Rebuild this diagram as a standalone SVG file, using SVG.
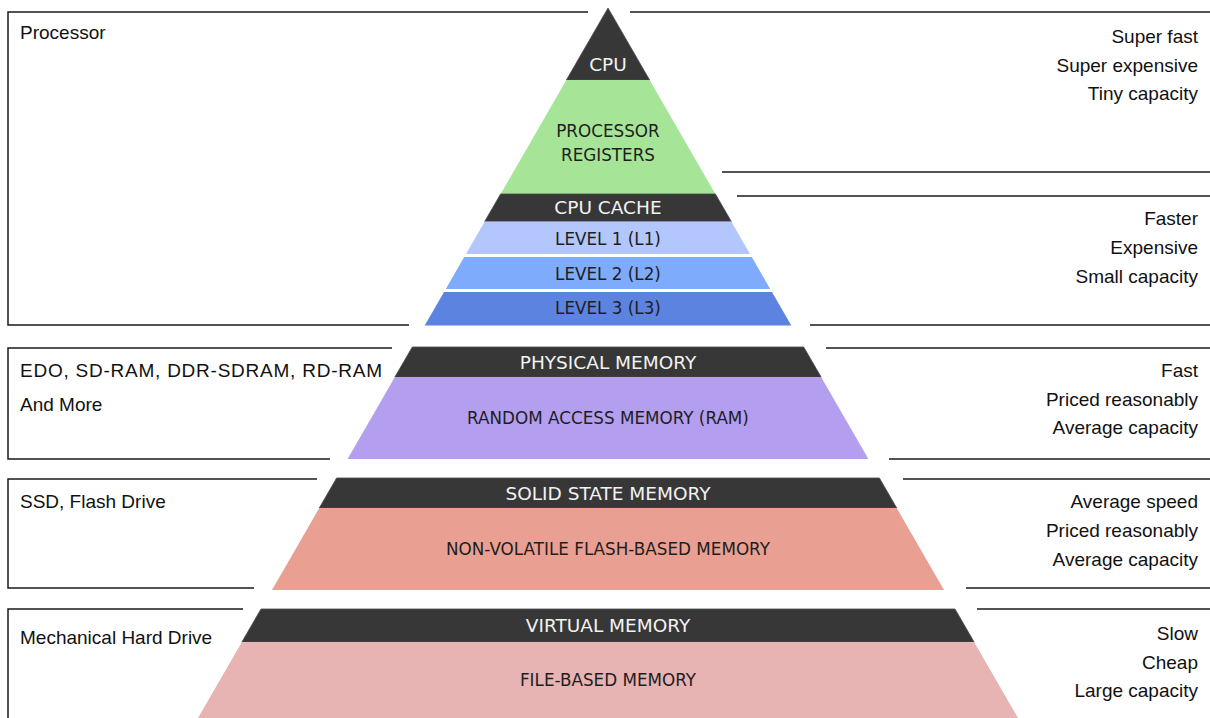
<svg xmlns="http://www.w3.org/2000/svg" width="1210" height="718" viewBox="0 0 1210 718">
<style>
.dark{fill:#373737;stroke:#4a4a4a;stroke-width:0.8}
.frame{fill:none;stroke:#1a1a1a;stroke-width:1.5}
.hd{font-family:"DejaVu Sans",sans-serif;font-size:18.5px;fill:#f2f2f2;text-anchor:middle}
.bd{font-family:"DejaVu Sans",sans-serif;font-size:16.8px;fill:#1e1e1e;text-anchor:middle}
.sl{font-family:"Liberation Sans",Arial,sans-serif;font-size:19px;fill:#111}
.sr{font-family:"Liberation Sans",Arial,sans-serif;font-size:19px;fill:#111;text-anchor:end}
</style>
<rect width="1210" height="718" fill="#ffffff"/>
<g id="frames">
<path class="frame" d="M588,12 H8 V325 H409"/>
<path class="frame" d="M630,12 H1212"/>
<path class="frame" d="M722,172 H1212"/>
<path class="frame" d="M737,196 H1212"/>
<path class="frame" d="M810,325 H1212"/>
<path class="frame" d="M392,348 H8 V459 H330"/>
<path class="frame" d="M826,348 H1212"/>
<path class="frame" d="M889,459 H1212"/>
<path class="frame" d="M317,479 H8 V588 H254"/>
<path class="frame" d="M903,479 H1212"/>
<path class="frame" d="M966,588 H1212"/>
<path class="frame" d="M243,609 H8 V720"/>
<path class="frame" d="M977,609 H1212"/>
</g>
<g id="cpu">
<polygon class="dark" points="608,8 649.6,80 566.4,80"/>
<text class="hd" x="608" y="71">CPU</text>
</g>
<g id="registers">
<polygon fill="#a6e598" points="566.4,80 649.6,80 715.4,194 500.6,194"/>
<text class="bd" x="608" y="137">PROCESSOR</text>
<text class="bd" x="608" y="161">REGISTERS</text>
</g>
<g id="cpu-cache">
<polygon class="dark" points="500.6,194 715.4,194 731.3,221.5 484.7,221.5"/>
<text class="hd" x="608" y="214">CPU CACHE</text>
</g>
<g id="level1">
<polygon fill="#b3c6fd" points="484.7,221.5 731.3,221.5 750,254 466,254"/>
<text class="bd" x="608" y="245">LEVEL 1 (L1)</text>
</g>
<g id="level2">
<polygon fill="#7eabfc" points="464.2,257 751.8,257 770.2,289 445.8,289"/>
<text class="bd" x="608" y="280">LEVEL 2 (L2)</text>
</g>
<g id="level3">
<polygon fill="#5d83e1" points="444,292 772,292 791.3,325.5 424.7,325.5"/>
<text class="bd" x="608" y="314">LEVEL 3 (L3)</text>
</g>
<g id="physical-memory">
<polygon class="dark" points="412.3,347 803.7,347 821.1,377 394.9,377"/>
<text class="hd" x="608" y="369">PHYSICAL MEMORY</text>
</g>
<g id="ram">
<polygon fill="#b39ef0" points="394.9,377 821.1,377 868.4,459 347.6,459"/>
<text class="bd" x="608" y="424">RANDOM ACCESS MEMORY (RAM)</text>
</g>
<g id="solid-state">
<polygon class="dark" points="336.6,478 879.4,478 896.7,508 319.3,508"/>
<text class="hd" x="608" y="500">SOLID STATE MEMORY</text>
</g>
<g id="flash">
<polygon fill="#e9a092" points="319.3,508 896.7,508 944,590 272,590"/>
<text class="bd" x="608" y="555">NON-VOLATILE FLASH-BASED MEMORY</text>
</g>
<g id="virtual-memory">
<polygon class="dark" points="261,609 955,609 974.1,642 241.9,642"/>
<text class="hd" x="608" y="632">VIRTUAL MEMORY</text>
</g>
<g id="file-memory">
<polygon fill="#e8b3b3" points="241.9,642 974.1,642 1018,718 198,718"/>
<text class="bd" x="608" y="686">FILE-BASED MEMORY</text>
</g>
<g id="labels-left">
<text class="sl" x="20" y="39">Processor</text>
<text class="sl" x="20" y="377" textLength="362" lengthAdjust="spacing">EDO, SD-RAM, DDR-SDRAM, RD-RAM</text>
<text class="sl" x="20" y="411">And More</text>
<text class="sl" x="20" y="508">SSD, Flash Drive</text>
<text class="sl" x="20" y="644">Mechanical Hard Drive</text>
</g>
<g id="labels-right">
<text class="sr" x="1198" y="43">Super fast</text>
<text class="sr" x="1198" y="72">Super expensive</text>
<text class="sr" x="1198" y="100">Tiny capacity</text>
<text class="sr" x="1198" y="225">Faster</text>
<text class="sr" x="1198" y="254">Expensive</text>
<text class="sr" x="1198" y="283">Small capacity</text>
<text class="sr" x="1198" y="377">Fast</text>
<text class="sr" x="1198" y="406">Priced reasonably</text>
<text class="sr" x="1198" y="434">Average capacity</text>
<text class="sr" x="1198" y="508">Average speed</text>
<text class="sr" x="1198" y="537">Priced reasonably</text>
<text class="sr" x="1198" y="566">Average capacity</text>
<text class="sr" x="1198" y="640">Slow</text>
<text class="sr" x="1198" y="669">Cheap</text>
<text class="sr" x="1198" y="697">Large capacity</text>
</g>
</svg>
